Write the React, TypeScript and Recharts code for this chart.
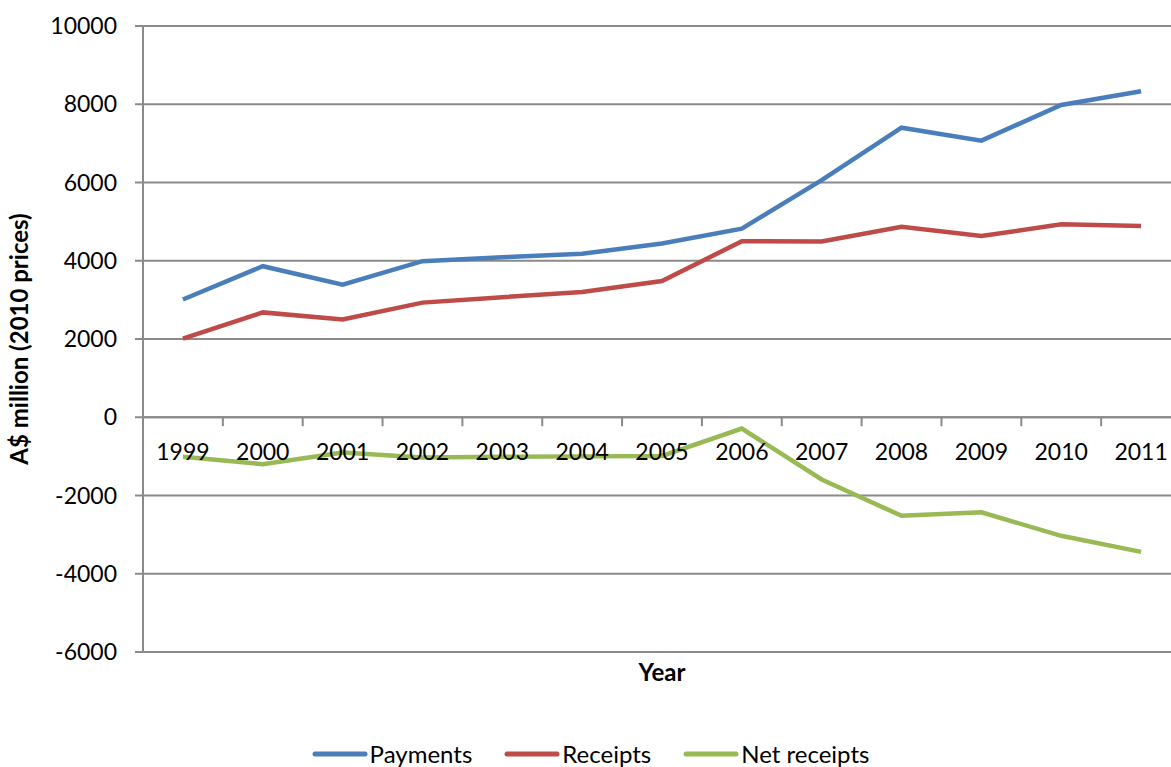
import React from "react";
import {
  LineChart,
  Line,
  XAxis,
  YAxis,
  CartesianGrid,
  Legend,
  ReferenceLine,
} from "recharts";

const years = [
  "1999", "2000", "2001", "2002", "2003", "2004", "2005",
  "2006", "2007", "2008", "2009", "2010", "2011",
];
const payments = [3010, 3860, 3390, 3990, 4090, 4180, 4440, 4820, 6060, 7400, 7070, 7980, 8330];
const receipts = [2010, 2680, 2500, 2930, 3070, 3200, 3480, 4500, 4490, 4870, 4630, 4930, 4890];
const netReceipts = [-1010, -1200, -900, -1030, -1010, -1000, -990, -290, -1590, -2520, -2430, -3030, -3440];
const yTicks = [-6000, -4000, -2000, 0, 2000, 4000, 6000, 8000, 10000];

const series = [
  { key: "payments", name: "Payments", color: "#4a7ebb" },
  { key: "receipts", name: "Receipts", color: "#be4b48" },
  { key: "net", name: "Net receipts", color: "#98b954" },
];

const data = years.map((year, i) => ({
  year,
  payments: payments[i],
  receipts: receipts[i],
  net: netReceipts[i],
}));

const FONT = "Lato, 'Open Sans', sans-serif";
const GRID = "#8a8a8a";

// chart geometry
const W = 1200;
const H = 767;
const margin = { top: 26, right: 19, left: 0, bottom: 0 };
const yAxisWidth = 143;
const legendHeight = 26;
const xAxisHeight = 89;
const yMin = -6000;
const yMax = 10000;
const plotW = W - margin.left - margin.right - yAxisWidth;
const plotH = H - margin.top - margin.bottom - legendHeight - xAxisHeight;
const band = plotW / years.length;
// the category axis sits on the zero line rather than the bottom of the plot
const zeroY = margin.top + (plotH * (yMax - 0)) / (yMax - yMin);

const YearTick = (props: any) => {
  const { x, payload, index } = props;
  const last = index === years.length - 1;
  return (
    <g>
      <line x1={x - band / 2} x2={x - band / 2} y1={zeroY} y2={zeroY + 9} stroke={GRID} strokeWidth={2} />
      {last && (
        <line x1={x + band / 2} x2={x + band / 2} y1={zeroY} y2={zeroY + 9} stroke={GRID} strokeWidth={2} />
      )}
      <text
        x={x}
        y={zeroY + 34}
        textAnchor="middle"
        dominantBaseline="central"
        fontSize={23}
        fontFamily={FONT}
        fill="#000"
      >
        {payload.value}
      </text>
    </g>
  );
};

const LegendContent = () => (
  <div
    style={{
      display: "flex",
      justifyContent: "center",
      alignItems: "center",
      fontFamily: FONT,
      fontSize: 24,
      lineHeight: "26px",
      color: "#000",
      gap: 32,
      paddingLeft: 0,
    }}
  >
    {series.map((s) => (
      <div key={s.key} style={{ display: "flex", alignItems: "center" }}>
        <svg width={56} height={10} style={{ marginRight: 2 }}>
          <line x1={3} x2={53} y1={5} y2={5} stroke={s.color} strokeWidth={5} strokeLinecap="round" />
        </svg>
        <span>{s.name}</span>
      </div>
    ))}
  </div>
);

export default function App() {
  return (
    <div
      style={{
        position: "fixed",
        left: 0,
        top: 0,
        width: 1171,
        height: 767,
        overflow: "hidden",
        background: "#fff",
      }}
    >
      <LineChart width={W} height={H} data={data} margin={margin}>
        <CartesianGrid horizontal vertical={false} stroke={GRID} strokeWidth={2} />
        <XAxis
          dataKey="year"
          height={xAxisHeight}
          axisLine={false}
          tickLine={false}
          interval={0}
          padding={{ left: band / 2, right: band / 2 }}
          tick={<YearTick />}
          label={{
            value: "Year",
            position: "insideTop",
            offset: 12,
            style: { fontFamily: FONT, fontSize: 24, fontWeight: 700, fill: "#000" },
          }}
        />
        <YAxis
          width={yAxisWidth}
          domain={[yMin, yMax]}
          ticks={yTicks}
          interval={0}
          axisLine={{ stroke: GRID, strokeWidth: 2 }}
          tickLine={{ stroke: GRID, strokeWidth: 2 }}
          tickSize={8}
          tickMargin={18}
          tick={{ fontFamily: FONT, fontSize: 23, fill: "#000" }}
          label={{
            value: "A$ million (2010 prices)",
            angle: -90,
            position: "insideLeft",
            offset: 19,
            style: { textAnchor: "middle", fontFamily: FONT, fontSize: 24, fontWeight: 700, fill: "#000" },
          }}
        />
        <ReferenceLine y={0} stroke={GRID} strokeWidth={2} />
        {series.map((s) => (
          <Line
            key={s.key}
            type="linear"
            dataKey={s.key}
            name={s.name}
            stroke={s.color}
            strokeWidth={4.5}
            dot={false}
            activeDot={false}
            isAnimationActive={false}
          />
        ))}
        <Legend verticalAlign="bottom" height={legendHeight} content={<LegendContent />} />
      </LineChart>
    </div>
  );
}
